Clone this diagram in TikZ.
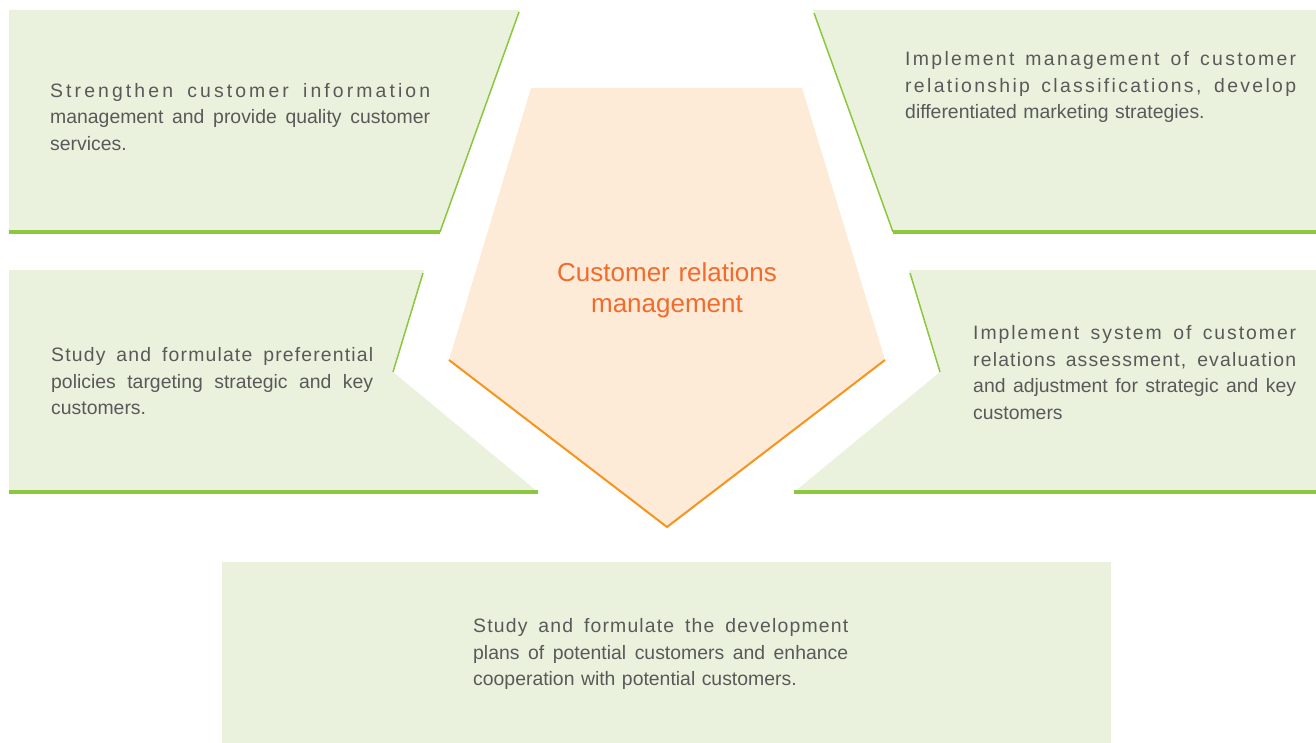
\documentclass[tikz,border=0pt]{standalone}
\usepackage{fontspec}
\setmainfont{Liberation Sans}
\newfontfamily\lsA[LetterSpace=16]{Liberation Sans}
\newfontfamily\lsB[LetterSpace=12]{Liberation Sans}
\newfontfamily\lsC[LetterSpace=10]{Liberation Sans}
\newfontfamily\lsD[LetterSpace=6]{Liberation Sans}

\definecolor{panelgreen}{HTML}{EAF2DE}
\definecolor{linegreen}{HTML}{8DC63F}
\definecolor{pentfill}{HTML}{FDEBD7}
\definecolor{pentline}{HTML}{F7941D}
\definecolor{penttext}{HTML}{F26A2C}
\definecolor{bodytext}{HTML}{595959}

% one line stretched to the full text width
\newcommand{\fullline}[2]{\leavevmode\hbox to \hsize{#1\spaceskip=.3em plus 1fil #2}}

\begin{document}
\begin{tikzpicture}[x=1pt,y=-1pt,
  edge/.style={linegreen,line width=1.5pt},
  foot/.style={linegreen,line width=3.5pt},
  body/.style={anchor=base west,inner sep=0pt,align=left,text=bodytext,
    font=\fontsize{19.4}{26.5}\selectfont}]
%\draw[step=50pt,gray,very thin] (0,0) grid (1316,743); %background grid
\useasboundingbox (0,0) rectangle (1316,743);

% top left panel
\fill[panelgreen] (9,10) -- (520,10) -- (440,232) -- (9,232) -- cycle;
\draw[edge] (519,12) -- (440,232);
\draw[foot] (9,232) -- (440,232);

% top right panel
\fill[panelgreen] (813,10) -- (1316,10) -- (1316,232) -- (893,232) -- cycle;
\draw[edge] (814,13) -- (893,232);
\draw[foot] (893,232) -- (1316,232);

% middle left panel
\fill[panelgreen] (9,270) -- (424,270) -- (393,372) -- (538,492) -- (9,492) -- cycle;
\draw[edge] (423,273) -- (393,372);
\draw[foot] (9,492) -- (538,492);

% middle right panel
\fill[panelgreen] (909,270) -- (1316,270) -- (1316,492) -- (794,492) -- (940,372) -- cycle;
\draw[edge] (910,273) -- (940,372);
\draw[foot] (794,492) -- (1316,492);

% bottom panel
\fill[panelgreen] (222,562) rectangle (1111,743);

% pentagon
\fill[pentfill] (531,88) -- (802,88) -- (885,360) -- (667,527) -- (449,360) -- cycle;
\draw[pentline,line width=2pt] (449,360) -- (667,527) -- (885,360);

\node[anchor=base,inner sep=0pt,text width=300pt,align=center,text=penttext,
  font=\fontsize{26}{31}\selectfont] (crmTitle) at (667,281) {Customer relations\\management};

\node[body,text width=380pt] (infoText) at (50,97.5)
  {\fullline{\lsA}{Strengthen customer information}\\
   \fullline{}{management and provide quality customer}\\
   services.};
\node[body,text width=391pt] (classText) at (905,66)
  {\fullline{\lsB}{Implement management of customer}\\
   \fullline{\lsB}{relationship classifications, develop}\\
   differentiated marketing strategies.};
\node[body,text width=322pt] (policyText) at (51,361.5)
  {\fullline{\lsD}{Study and formulate preferential}\\
   \fullline{}{policies targeting strategic and key}\\
   customers.};
\node[body,text width=323pt] (assessText) at (973,339.5)
  {\fullline{\lsC}{Implement system of customer}\\
   \fullline{\lsD}{relations assessment, evaluation}\\
   \fullline{}{and adjustment for strategic and key}\\
   customers};
\node[body,text width=375pt] (planText) at (473,632.5)
  {\fullline{\lsD}{Study and formulate the development}\\
   \fullline{}{plans of potential customers and enhance}\\
   cooperation with potential customers.};

\end{tikzpicture}
\end{document}
